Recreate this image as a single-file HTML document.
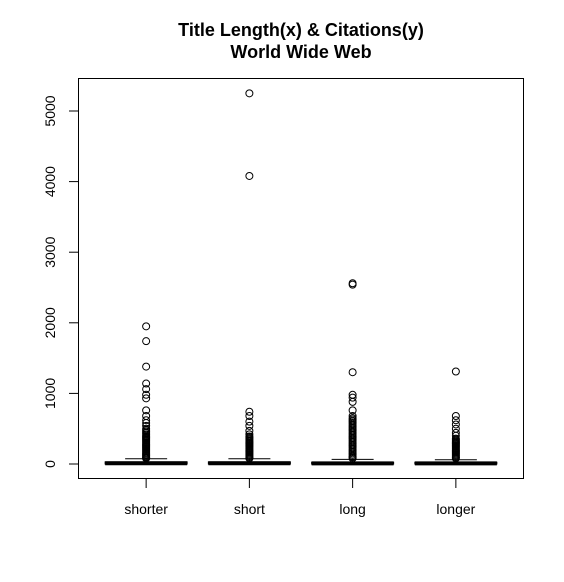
<!DOCTYPE html>
<html><head><meta charset="utf-8"><style>
body{margin:0;background:#fff}
svg text{font-family:"Liberation Sans",Arial,sans-serif}
</style></head><body>
<svg id="chart" width="564" height="577" viewBox="0 0 564 577" xmlns="http://www.w3.org/2000/svg">
<rect width="564" height="577" fill="#fff"/>
<text x="301" y="36" text-anchor="middle" font-size="18" font-weight="bold">Title Length(x) &amp; Citations(y)</text>
<text x="301" y="58" text-anchor="middle" font-size="18" font-weight="bold">World Wide Web</text>
<rect x="78.5" y="78.5" width="445" height="400" fill="none" stroke="#000" stroke-width="1"/>
<g id="marks"></g>
</svg>
<script>
const categories = ["shorter","short","long","longer"];
const yTicks = [0,1000,2000,3000,4000,5000];
const q1 = [0,0,0,0];
const median = [10,10,8,8];
const q3 = [30,30,25,25];
const whiskerHi = [75,75,65,60];
const outShorter = [1950,1740,1380,1140,1060,980,930,760,680,620,580,540,500,480,460,440,420,400,385,370,355,340,325,310,295,280,265,250,235,220,205,190,175,160,145,130,115,100,90,80];
const outShort = [5250,4080,740,680,600,540,470,420,390,375,360,345,330,315,300,285,270,255,240,225,210,195,180,165,150,135,120,105,90,80];
const outLong = [2560,2540,1300,980,940,880,760,680,650,630,610,590,570,550,530,510,490,470,450,430,410,390,370,350,330,310,290,270,250,230,210,190,170,150,130,110,95,80];
const outLonger = [1310,680,620,560,500,440,400,360,345,330,315,300,285,270,255,240,225,210,195,180,165,150,135,120,105,90,80];
const outliers = [outShorter,outShort,outLong,outLonger];

const NS="http://www.w3.org/2000/svg";
const g=document.getElementById('marks');
const X0=78, X1=524, Y0=479;
const xs = i => X0 + ((i+1) - 0.34) * ((X1-X0)/4.32);
const ys = v => 464 - v * (353/5000);
function mk(tag, at){const e=document.createElementNS(NS,tag);for(const k in at)e.setAttribute(k,at[k]);g.appendChild(e);return e;}

yTicks.forEach(t=>{
  const y=ys(t);
  const l=mk('line',{x1:69,x2:78,y1:y,y2:y,stroke:'#000'});
  
  
  const tx=mk('text',{x:0,y:0,'font-size':14,'text-anchor':'middle',transform:`translate(55,${y}) rotate(-90)`});
  tx.textContent=t;
  
  
});

categories.forEach((c,i)=>{
  const x=xs(i), hw=41, cw=21;
  const t=mk('line',{x1:x,x2:x,y1:Y0,y2:Y0+9,stroke:'#000'});
  
  
  const lb=mk('text',{x:x,y:514,'font-size':14,'text-anchor':'middle'});
  lb.textContent=c;
  
  
  const wk=mk('line',{x1:x,x2:x,y1:ys(q3[i]),y2:ys(whiskerHi[i]),stroke:'#000','stroke-dasharray':'4,3'});
  
  
  const cap=mk('line',{x1:x-cw,x2:x+cw,y1:ys(whiskerHi[i]),y2:ys(whiskerHi[i]),stroke:'#000'});
  
  
  const bx=mk('rect',{x:x-hw,y:ys(q3[i]),width:2*hw,height:Math.max(1,ys(q1[i])-ys(q3[i])),fill:'none',stroke:'#000'});
  
  
  const md=mk('line',{x1:x-hw,x2:x+hw,y1:ys(median[i]),y2:ys(median[i]),stroke:'#000','stroke-width':4});
  
  
  outliers[i].forEach(v=>{
    const p=mk('circle',{cx:x,cy:ys(v),r:3.5,fill:'none',stroke:'#000'});
    
    
  });
});
</script>
</body></html>
